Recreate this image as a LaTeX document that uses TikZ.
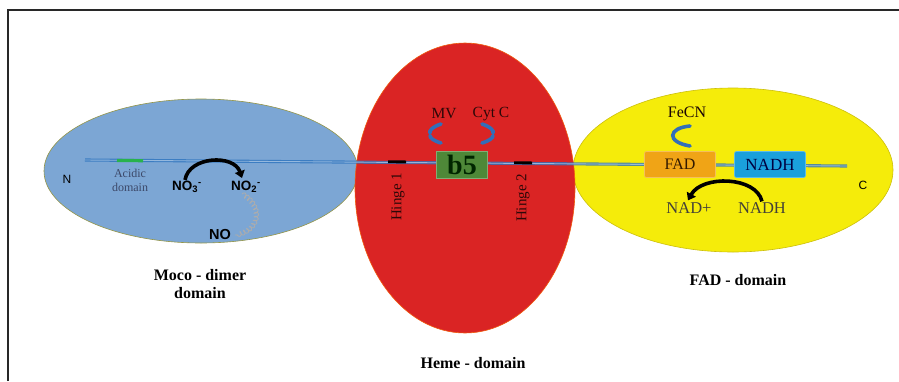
\documentclass[tikz,border=0pt]{standalone}
\usepackage{fontspec}
\setmainfont{Liberation Serif}
\setsansfont{Liberation Sans}
\usetikzlibrary{shapes.geometric,arrows.meta,decorations.pathmorphing}
\definecolor{mocoblue}{RGB}{124,166,212}
\definecolor{hemered}{RGB}{218,36,36}
\definecolor{fadyellow}{RGB}{245,236,10}
\definecolor{lineblue}{RGB}{45,115,190}
\definecolor{acidgreen}{RGB}{40,178,76}
\definecolor{b5green}{RGB}{78,136,56}
\definecolor{fadorange}{RGB}{240,164,22}
\definecolor{nadhblue}{RGB}{26,160,220}
\definecolor{bracketblue}{RGB}{50,110,185}
\definecolor{slatetext}{RGB}{60,72,104}
\definecolor{darkred}{RGB}{45,8,8}
\definecolor{framegray}{RGB}{40,40,40}
\begin{document}
\begin{tikzpicture}[x=1pt,y=-1pt,
  dom/.style={ellipse, draw, line width=0.6pt, inner sep=0pt},
  backbone/.style={draw=lineblue, line width=1.1pt, double=lineblue!40!white, double distance=0.9pt, opacity=0.8},
  hingebar/.style={line width=2.8pt, black},
  boxnode/.style={rounded corners=2pt, line width=0.6pt, inner sep=0pt},
  curvarrow/.style={line width=3.6pt, black, -{Triangle[length=7pt,width=10pt]}},
  bracket/.style={line width=3.6pt, bracketblue, line cap=round},
  lbl/.style={font=\fontsize{16}{18}\selectfont\bfseries, align=center, inner sep=1pt},
  sanslbl/.style={font=\sffamily\fontsize{12}{14}\selectfont, inner sep=1pt},
  chem/.style={font=\sffamily\bfseries\fontsize{13.5}{15}\selectfont, inner sep=1pt},
  serif/.style={inner sep=1pt}
]
\useasboundingbox (0,0) rectangle (899,381);
% frame
\draw[framegray, line width=2pt] (7.5,381) -- (7.5,10) -- (899,10);
% domains
\node[dom, fill=mocoblue, draw=olive!60!mocoblue, minimum width=314pt, minimum height=144pt] (moco) at (201,171) {};
\node[dom, fill=fadyellow, draw=olive!40!fadyellow, minimum width=320pt, minimum height=164pt] (fad) at (733,170) {};
\node[dom, fill=hemered, draw=orange!60!hemered, minimum width=220pt, minimum height=290pt] (heme) at (465,188) {};
% backbone
\coordinate (nterm) at (85,160);
\coordinate (cterm) at (847,166);
\draw[backbone] (nterm) -- (cterm);
\draw[acidgreen, line width=3.2pt] (117,160.4) -- (143,160.7);
% hinges
\draw[hingebar] (388,161.8) -- (406,161.9);
\draw[hingebar] (514,162.8) -- (532,162.9);
\node[serif, rotate=90, text=darkred, font=\fontsize{15}{17}\selectfont] (h1) at (398,197) {Hinge 1};
\node[serif, rotate=90, text=darkred, font=\fontsize{15}{17}\selectfont] (h2) at (523,198) {Hinge 2};
% b5
\node[boxnode, rounded corners=0pt, fill=b5green, draw=b5green!70!white, minimum width=51pt, minimum height=27pt, text=black!85!green, font=\fontsize{28}{30}\selectfont\bfseries] (b5) at (462,164.5) {b5};
\node[serif, text=darkred, font=\fontsize{15.5}{17}\selectfont] (mv) at (444,114) {MV};
\node[serif, text=darkred, font=\fontsize{15.5}{17}\selectfont] (cytc) at (491,114) {Cyt C};
\draw[bracket] (441,124) .. controls (432,127) and (429,131) .. (430,133);
\draw[bracket] (430,135.5) .. controls (430,138) and (434,141) .. (441,143);
\draw[bracket] (482,124) .. controls (491,127) and (494,131) .. (493,133);
\draw[bracket] (493,135.5) .. controls (493,138) and (489,141) .. (482,143);
% FAD domain
\node[serif, text=darkred!60!black, font=\fontsize{16}{18}\selectfont] (fecn) at (687,112) {FeCN};
\draw[bracket] (690,126) .. controls (668,128) and (666,142) .. (690,146);
\node[boxnode, fill=fadorange, draw=fadorange!70!white, minimum width=71pt, minimum height=26pt, text=black!80!orange, font=\fontsize{16}{18}\selectfont] (fadbox) at (680,164.5) {FAD};
\node[boxnode, fill=nadhblue, draw=nadhblue!70!white, minimum width=71pt, minimum height=26pt, text=black!75!blue, font=\fontsize{17}{19}\selectfont] (nadhbox) at (770,164.5) {NADH};
\node[serif, text=black!85!yellow, font=\fontsize{16.5}{18}\selectfont] (nadplus) at (689,208) {NAD+};
\node[serif, text=black!85!yellow, font=\fontsize{16.5}{18}\selectfont] (nadh) at (762,208) {NADH};
\draw[curvarrow] (nadh.north) .. controls (756,176) and (702,175) .. ([xshift=-1pt,yshift=1pt]nadplus.north);
\node[sanslbl] (cl) at (863,185) {C};
% Moco domain
\node[sanslbl] (nl) at (67,179) {N};
\node[serif, align=center, text=slatetext, font=\fontsize{12}{14}\selectfont] (acid) at (130,180) {Acidic\\domain};
\node[chem] (no3) at (187,187) {NO\textsubscript{3}\textsuperscript{-}};
\node[chem] (no2) at (246,187) {NO\textsubscript{2}\textsuperscript{-}};
\node[chem, font=\sffamily\bfseries\fontsize{14.5}{16}\selectfont] (no) at (220,235) {NO};
\draw[curvarrow] ([xshift=-2pt]no3.north) .. controls (189,156) and (234,154) .. ([xshift=-4pt,yshift=2pt]no2.north);
\draw[gray!65, line width=0.8pt, decorate, decoration={coil, amplitude=2.4pt, segment length=4pt}] ([xshift=-4pt]no2.south) .. controls (262,205) and (262,230) .. ([xshift=3pt]no.east);
% labels
\node[lbl] (mocolbl) at (200,284) {Moco - dimer\\domain};
\node[lbl] (fadlbl) at (738,280) {FAD - domain};
\node[lbl] (hemelbl) at (473,363) {Heme - domain};
\end{tikzpicture}
\end{document}
